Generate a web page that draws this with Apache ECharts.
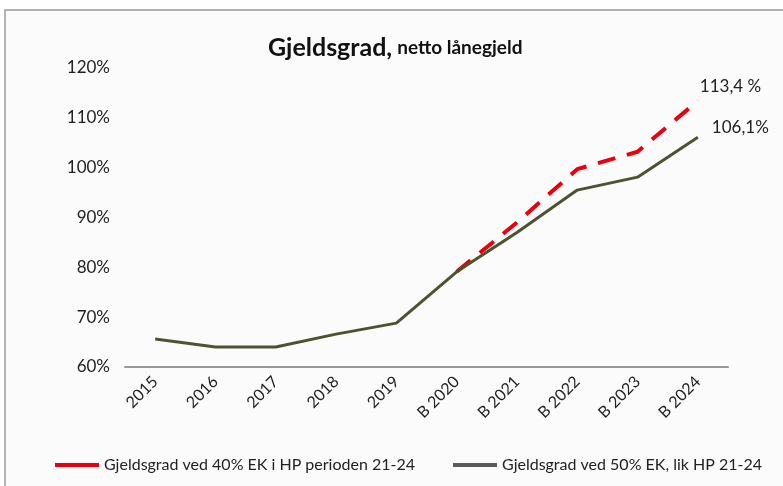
<!DOCTYPE html>
<html><head><meta charset="utf-8">
<script src="https://cdn.jsdelivr.net/npm/echarts@6/dist/echarts.min.js"></script>
<style>html,body{margin:0;padding:0;background:#fff}#c{width:783px;height:486px}</style>
</head><body><div id="c"></div>
<script>
var categories = ['2015','2016','2017','2018','2019','B 2020','B 2021','B 2022','B 2023','B 2024'];
var red40 = [null,null,null,null,null,79.1,89.0,99.7,103.2,113.4];
var green50 = [65.6,64.0,64.0,66.6,68.8,79.1,87.0,95.5,98.1,106.1];
var yTicks = [60,70,80,90,100,110,120];
var endLabels = ['113,4 %','106,1%'];
var names = ['Gjeldsgrad ved 40% EK i HP perioden 21-24','Gjeldsgrad ved 50% EK, lik HP 21-24'];

var FONT = 'Lato';
var chart = echarts.init(document.getElementById('c'));
chart.setOption({
  backgroundColor:'#fff',
  animation:false,
  graphic:[{type:'rect',shape:{x:5,y:10,width:800,height:500},style:{fill:'#fbfbfb',stroke:'#9a9a9a',lineWidth:1.5},z:-10}],
  title:{
    text:'{a|Gjeldsgrad,} {b|netto lånegjeld}',
    left:263, top:30,
    textStyle:{rich:{a:{fontFamily:FONT,fontWeight:'bold',fontSize:25,color:'#111'},b:{fontFamily:FONT,fontWeight:'bold',fontSize:19,color:'#111'}}}
  },
  grid:{left:125,right:55,top:68,bottom:119},
  legend:{
    bottom:8,left:50,itemGap:38,itemWidth:44,itemHeight:4,icon:'rect',
    textStyle:{fontFamily:FONT,fontSize:16,color:'#222'},
    data:[{name:names[0],itemStyle:{color:'#e8000f'}},{name:names[1],itemStyle:{color:'#5a5a5a'}}]
  },
  xAxis:{
    type:'category',data:categories,boundaryGap:true,
    axisLine:{show:true,lineStyle:{color:'#999',width:2}},
    axisTick:{show:false},
    axisLabel:{rotate:45,fontFamily:FONT,fontSize:16,color:'#222',margin:12,interval:0}
  },
  yAxis:{
    type:'value',min:yTicks[0],max:yTicks[yTicks.length-1],interval:10,
    axisLine:{show:false},axisTick:{show:false},splitLine:{show:false},
    axisLabel:{formatter:'{value}%',fontFamily:FONT,fontSize:17,color:'#222',margin:15}
  },
  series:[
    {name:names[0],type:'line',data:red40,symbol:'none',z:2,
     lineStyle:{color:'#e8000f',width:4,type:[18,12]},itemStyle:{color:'#e8000f'},
     endLabel:{show:true,formatter:endLabels[0],offset:[-6,-14],color:'#222',fontFamily:FONT,fontSize:17}},
    {name:names[1],type:'line',data:green50,symbol:'none',z:3,
     lineStyle:{color:'#4d5230',width:3},itemStyle:{color:'#4d5230'},
     endLabel:{show:true,formatter:endLabels[1],offset:[6,-10],color:'#222',fontFamily:FONT,fontSize:17}}
  ]
});
</script></body></html>
